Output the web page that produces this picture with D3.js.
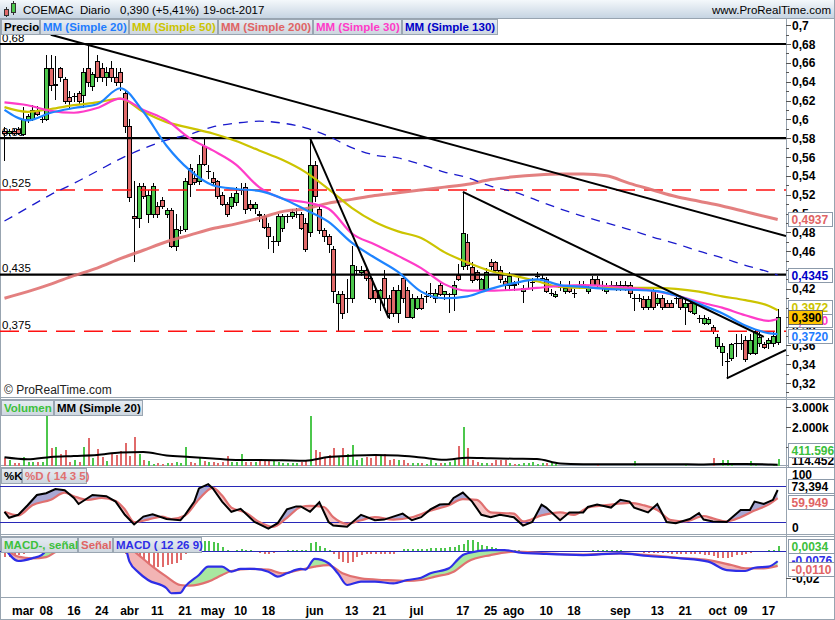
<!DOCTYPE html>
<html><head><meta charset="utf-8">
<script src="https://cdn.jsdelivr.net/npm/d3@7"></script>
<style>
body{margin:0;background:#fff}
svg{display:block}
text{font-family:"Liberation Sans",Arial,sans-serif}
</style>
</head><body>
<svg id="c" width="835" height="620"></svg>
<script>
// ---------------- DATA ----------------
const ticker = "COEMAC", period = "Diario";
const monthDays = [
 ['02',[23,24,27,28]],
 ['03',[1,2,3,6,7,8,9,10,13,14,15,16,17,20,21,22,23,24,27,28,29,30,31]],
 ['04',[3,4,5,6,7,10,11,12,13,18,19,20,21,24,25,26,27,28]],
 ['05',[2,3,4,5,8,9,10,11,12,15,16,17,18,19,22,23,24,25,26,29,30,31]],
 ['06',[1,2,5,6,7,8,9,12,13,14,15,16,19,20,21,22,23,26,27,28,29,30]],
 ['07',[3,4,5,6,7,10,11,12,13,14,17,18,19,20,21,24,25,26,27,28,31]],
 ['08',[1,2,3,4,7,8,9,10,11,14,15,16,17,18,21,22,23,24,25,28,29,30,31]],
 ['09',[1,4,5,6,7,8,11,12,13,14,15,18,19,20,21,22,25,26,27,28,29]],
 ['10',[2,3,4,5,6,9,10,11,12,13,16,17,18,19]]
];
const xTickLabels = [['2017-03-01','mar'],['2017-03-08','08'],['2017-03-16','16'],['2017-03-24','24'],['2017-04-03','abr'],['2017-04-11','11'],['2017-04-21','21'],['2017-05-02','may'],['2017-05-10','10'],['2017-05-18','18'],['2017-06-01','jun'],['2017-06-13','13'],['2017-06-21','21'],['2017-07-03','jul'],['2017-07-17','17'],['2017-07-25','25'],['2017-08-01','ago'],['2017-08-10','10'],['2017-08-18','18'],['2017-09-01','sep'],['2017-09-13','13'],['2017-09-21','21'],['2017-10-02','oct'],['2017-10-09','09'],['2017-10-17','17']];

// OHLC rows [open, high, low, close]
const ohlc = [
[0.588,0.592,0.556,0.585],[0.585,0.590,0.582,0.588],[0.588,0.590,0.583,0.585],[0.590,0.592,0.583,0.585],
[0.584,0.613,0.582,0.600],[0.600,0.606,0.596,0.604],[0.600,0.615,0.598,0.610],[0.609,0.614,0.604,0.606],
[0.600,0.604,0.596,0.600],[0.600,0.668,0.598,0.654],[0.654,0.668,0.630,0.636],[0.636,0.667,0.621,0.637],
[0.654,0.656,0.640,0.645],[0.643,0.645,0.616,0.620],[0.624,0.630,0.612,0.620],[0.625,0.628,0.618,0.625],
[0.628,0.630,0.615,0.620],[0.626,0.655,0.612,0.650],[0.654,0.679,0.634,0.640],[0.635,0.650,0.630,0.648],
[0.662,0.668,0.640,0.645],[0.654,0.660,0.640,0.645],[0.645,0.656,0.635,0.650],[0.654,0.662,0.640,0.645],
[0.645,0.655,0.635,0.640],[0.650,0.654,0.630,0.640],[0.628,0.630,0.585,0.593],[0.593,0.600,0.512,0.518],
[0.497,0.534,0.449,0.495],[0.495,0.532,0.485,0.529],[0.529,0.532,0.515,0.519],[0.500,0.525,0.490,0.520],
[0.500,0.532,0.495,0.529],[0.508,0.512,0.495,0.500],[0.514,0.518,0.505,0.508],[0.500,0.506,0.495,0.504],
[0.504,0.506,0.463,0.466],[0.466,0.500,0.460,0.484],[0.483,0.487,0.478,0.483],[0.484,0.538,0.480,0.534],
[0.548,0.553,0.518,0.531],[0.538,0.545,0.530,0.533],[0.534,0.562,0.530,0.553],[0.572,0.580,0.550,0.553],
[0.545,0.552,0.537,0.545],[0.538,0.544,0.530,0.533],[0.534,0.536,0.515,0.519],[0.520,0.523,0.508,0.510],
[0.510,0.512,0.496,0.499],[0.508,0.522,0.505,0.518],[0.512,0.528,0.508,0.522],[0.525,0.532,0.520,0.525],
[0.528,0.532,0.500,0.505],[0.510,0.514,0.503,0.506],[0.506,0.512,0.500,0.510],[0.500,0.503,0.491,0.499],
[0.497,0.500,0.484,0.486],[0.486,0.490,0.462,0.476],[0.471,0.476,0.458,0.471],[0.471,0.500,0.465,0.497],
[0.485,0.500,0.480,0.497],[0.497,0.500,0.490,0.497],[0.497,0.505,0.494,0.502],[0.500,0.506,0.495,0.500],
[0.500,0.502,0.483,0.485],[0.490,0.495,0.459,0.462],[0.480,0.580,0.475,0.552],[0.552,0.556,0.512,0.519],
[0.505,0.508,0.478,0.482],[0.482,0.485,0.470,0.476],[0.476,0.478,0.458,0.468],[0.462,0.465,0.405,0.418],
[0.405,0.418,0.375,0.414],[0.414,0.418,0.388,0.394],[0.410,0.430,0.394,0.410],[0.410,0.465,0.405,0.445],
[0.440,0.444,0.436,0.440],[0.438,0.444,0.434,0.440],[0.440,0.442,0.428,0.431],[0.431,0.434,0.408,0.410],
[0.419,0.422,0.405,0.410],[0.410,0.420,0.396,0.419],[0.431,0.440,0.402,0.410],[0.410,0.413,0.388,0.394],
[0.419,0.422,0.390,0.394],[0.394,0.424,0.384,0.419],[0.431,0.434,0.405,0.410],[0.419,0.422,0.390,0.390],
[0.390,0.414,0.388,0.410],[0.400,0.412,0.398,0.410],[0.410,0.414,0.398,0.400],[0.412,0.418,0.405,0.412],
[0.416,0.426,0.410,0.416],[0.410,0.420,0.405,0.416],[0.424,0.426,0.412,0.414],[0.414,0.418,0.408,0.418],
[0.414,0.416,0.394,0.414],[0.415,0.428,0.396,0.424],[0.435,0.446,0.428,0.430],[0.444,0.523,0.440,0.479],
[0.470,0.478,0.440,0.445],[0.443,0.448,0.426,0.429],[0.438,0.440,0.428,0.430],[0.420,0.432,0.418,0.430],
[0.420,0.442,0.418,0.438],[0.449,0.452,0.440,0.444],[0.449,0.450,0.438,0.440],[0.440,0.444,0.426,0.430],
[0.428,0.432,0.418,0.424],[0.424,0.438,0.420,0.434],[0.425,0.428,0.418,0.424],[0.427,0.432,0.424,0.427],
[0.418,0.424,0.405,0.421],[0.429,0.432,0.420,0.429],[0.427,0.432,0.418,0.427],[0.434,0.438,0.430,0.434],
[0.432,0.436,0.428,0.432],[0.430,0.433,0.416,0.418],[0.416,0.420,0.412,0.416],[0.412,0.418,0.410,0.415],
[0.422,0.428,0.418,0.422],[0.418,0.424,0.415,0.421],[0.424,0.428,0.416,0.418],[0.416,0.420,0.410,0.416],
[0.424,0.428,0.420,0.424],[0.425,0.428,0.420,0.425],[0.418,0.424,0.414,0.421],[0.430,0.434,0.423,0.424],
[0.430,0.434,0.422,0.424],[0.424,0.428,0.418,0.424],[0.418,0.426,0.415,0.423],[0.424,0.428,0.420,0.424],
[0.424,0.427,0.418,0.424],[0.424,0.428,0.418,0.424],[0.424,0.428,0.418,0.420],[0.424,0.427,0.410,0.416],
[0.410,0.414,0.396,0.410],[0.410,0.414,0.406,0.410],[0.409,0.412,0.398,0.401],[0.401,0.412,0.398,0.409],
[0.419,0.422,0.398,0.401],[0.405,0.415,0.402,0.410],[0.410,0.413,0.398,0.401],[0.405,0.408,0.400,0.401],
[0.405,0.408,0.400,0.401],[0.410,0.412,0.404,0.410],[0.410,0.412,0.398,0.401],[0.401,0.408,0.382,0.405],
[0.405,0.408,0.394,0.396],[0.394,0.408,0.392,0.405],[0.389,0.392,0.384,0.389],[0.384,0.392,0.382,0.389],
[0.384,0.390,0.382,0.388],[0.380,0.382,0.372,0.375],[0.359,0.372,0.356,0.369],[0.353,0.362,0.338,0.359],
[0.343,0.352,0.325,0.343],[0.347,0.362,0.343,0.361],[0.363,0.372,0.348,0.363],[0.363,0.372,0.355,0.363],
[0.366,0.370,0.342,0.345],[0.352,0.372,0.350,0.366],[0.352,0.376,0.350,0.375],[0.362,0.374,0.358,0.369],
[0.361,0.364,0.356,0.358],[0.362,0.368,0.356,0.366],[0.362,0.374,0.358,0.370],[0.364,0.399,0.360,0.390]
];

// volume in thousands
const volume = [435,350,200,200,517,267,267,267,267,2633, 933,1017,633,850,267,350,267,1017,1467,433,
 900,480,300,650,600,800,1183,550,1500,633, 350,300,150,183,133,183,217,267,183,1017,
 267,183,433,300,267,233,217,267,550,267, 267,650,267,267,267,300,300,300,350,233,
 183,183,183,183,233,350,2550,850,767,517, 600,967,550,967,633,1083,350,433,517,433,
 600,600,633,350,400,350,350,183,217,183, 183,133,350,183,183,183,267,350,1050,2017,
 967,350,267,183,183,183,350,350,350,183, 133,133,183,183,267,133,183,217,183,133,
 60,40,50,30,40,30,60,40,80,30, 70,40,30,60,40,50,300,60,40,50,
 40,60,30,40,50,40,30,120,40,60, 30,50,40,433,60,350,350,80,60,40,
 70,300,80,60,50,60,80,411.596];

// moving averages read every 5 sessions (index into trading days)
const maIdx = [0,5,10,15,20,25,30,35,40,45,50,55,60,65,70,75,80,85,90,95,100,105,110,115,120,125,130,135,140,145,150,155,160,165,167];
const ma20  = [0.610,0.599,0.607,0.612,0.616,0.633,0.608,0.572,0.546,0.530,0.526,0.524,0.516,0.504,0.491,0.469,0.453,0.438,0.417,0.410,0.412,0.420,0.426,0.430,0.424,0.422,0.420,0.419,0.418,0.413,0.404,0.394,0.381,0.373,0.3720];
const ma50  = [0.613,0.608,0.611,0.615,0.618,0.622,0.608,0.597,0.591,0.585,0.577,0.567,0.557,0.544,0.526,0.506,0.491,0.481,0.474,0.459,0.448,0.439,0.434,0.428,0.422,0.421,0.421,0.421,0.421,0.420,0.417,0.412,0.408,0.402,0.3972];
const ma200 = [0.410,0.417,0.425,0.434,0.442,0.452,0.461,0.470,0.477,0.484,0.489,0.495,0.502,0.505,0.511,0.515,0.519,0.522,0.525,0.528,0.531,0.536,0.539,0.541,0.542,0.542,0.540,0.532,0.525,0.518,0.513,0.508,0.502,0.496,0.4937];
const ma30  = [0.618,0.615,0.609,0.607,0.612,0.622,0.610,0.599,0.580,0.567,0.552,0.528,0.516,0.512,0.505,0.479,0.467,0.455,0.442,0.425,0.418,0.418,0.419,0.421,0.423,0.424,0.423,0.421,0.418,0.413,0.406,0.400,0.392,0.386,0.3880];
const ma130 = [0.492,0.506,0.520,0.532,0.545,0.558,0.569,0.578,0.584,0.592,0.596,0.598,0.596,0.591,0.582,0.570,0.562,0.559,0.552,0.544,0.538,0.529,0.523,0.514,0.505,0.497,0.490,0.483,0.475,0.468,0.460,0.453,0.445,0.438,0.4345];
const volMa = [485,385,500,550,600,725,750,575,500,425,350,350,335,315,500,565,600,575,475,365,465,435,415,400,175,140,135,135,135,135,130,150,150,130,114.452];

// drawn levels and trend lines
const levels = [{v:0.68,lab:'0,68',dash:false},{v:0.58,lab:'0,58',dash:false},{v:0.435,lab:'0,435',dash:false},{v:0.525,lab:'0,525',dash:true},{v:0.375,lab:'0,375',dash:true}];
const trendLines = [
 {a:[18,0.679], b:[167,0.4785], from:10, extend:true},
 {a:[66,0.580], b:[83,0.389], from:66, extend:false},
 {a:[99,0.523], b:[164,0.369], from:99, extend:false},
 {a:[156,0.325], b:[167,0.351], from:156, extend:true}
];

// stochastic [session index, value]
const stochK = [[0,37],[1,27],[3,32],[5,48],[7,65],[9,68],[11,75],[13,73],[15,60],[16,50],[19,65],[22,63],[24,54],[26,32],[28,16],[30,29],[32,33],[35,25],[38,23],[39,32],[41,54],[42,76],[44,83],[45,76],[47,54],[49,37],[51,42],[54,20],[57,9],[59,18],[61,41],[63,46],[64,46],[66,37],[68,53],[70,20],[71,14],[74,12],[77,32],[80,23],[82,24],[86,34],[88,23],[90,28],[92,41],[94,49],[96,50],[97,60],[99,69],[101,54],[103,32],[105,28],[107,32],[110,28],[112,14],[114,20],[116,49],[117,44],[120,23],[122,36],[125,36],[126,45],[128,49],[131,44],[133,57],[135,54],[136,44],[139,36],[141,50],[143,20],[145,18],[148,25],[150,35],[151,24],[153,21],[156,20],[159,40],[161,40],[162,54],[164,50],[166,57],[167,73.394]];
const stochD = [[0,37],[3,31],[6,48],[10,57],[13,69],[15,63],[18,57],[21,60],[24,55],[26,41],[28,20],[31,24],[34,29],[36,25],[39,31],[42,58],[45,77],[47,64],[49,44],[52,36],[55,20],[58,12],[61,27],[64,45],[66,47],[69,45],[71,28],[74,17],[77,23],[80,28],[84,24],[88,28],[92,39],[96,48],[99,58],[102,57],[105,36],[110,34],[112,21],[116,31],[120,36],[123,32],[126,44],[130,48],[135,52],[138,48],[141,40],[144,23],[147,21],[151,30],[153,26],[156,21],[159,28],[162,39],[165,49],[167,59.949]];

// MACD [session index, value]
const macdLine = [[0,0.0025],[3,-0.0074],[6,-0.0054],[8,-0.003],[10,0.004],[13,0.008],[16,0.010],[19,0.010],[22,0.009],[24,0.006],[26,0.0032],[27,-0.0079],[29,-0.016],[31,-0.0215],[35,-0.0276],[36,-0.0313],[38,-0.031],[39,-0.0264],[42,-0.0178],[44,-0.0116],[47,-0.0116],[49,-0.0153],[51,-0.0133],[54,-0.0133],[57,-0.0153],[59,-0.019],[61,-0.0165],[64,-0.0133],[65,-0.0138],[67,-0.0059],[70,-0.0091],[72,-0.0165],[74,-0.0252],[77,-0.0227],[80,-0.0227],[84,-0.024],[87,-0.0215],[90,-0.0198],[92,-0.0165],[96,-0.0128],[98,-0.006],[99,-0.003],[100,-0.0017],[105,0.0007],[108,0.0007],[111,-0.001],[117,-0.0022],[125,-0.003],[133,-0.0017],[139,-0.0037],[146,-0.0054],[152,-0.0079],[156,-0.0141],[160,-0.0148],[162,-0.0124],[165,-0.0116],[167,-0.0076]];
const macdSignal = [[0,0.0025],[3,-0.0042],[6,-0.0054],[9,-0.0045],[11,-0.0007],[14,0.004],[18,0.007],[22,0.008],[26,0.004],[27,0.0025],[29,-0.003],[32,-0.0116],[35,-0.019],[38,-0.0252],[40,-0.0257],[44,-0.0227],[47,-0.0178],[49,-0.0148],[53,-0.0133],[57,-0.0138],[60,-0.0165],[64,-0.0138],[67,-0.0116],[70,-0.0104],[73,-0.0165],[77,-0.0203],[82,-0.0215],[87,-0.0222],[90,-0.0215],[93,-0.019],[97,-0.0153],[100,-0.0079],[105,-0.003],[110,-0.0005],[117,-0.0017],[125,-0.0027],[133,-0.0017],[139,-0.003],[146,-0.0052],[152,-0.0067],[157,-0.0104],[160,-0.0128],[164,-0.0128],[167,-0.011]];
const macdHist = [-0.0042,-0.0047,-0.0042,-0.003,-0.002,-0.001,-0.0005,0.001,0.002,0.004,0.006,0.007,0.007,0.006,0.005,0.004,0.004,0.003,0.003,0.003,
0.002,0.002,0.001,0.001,0.000,-0.001,-0.002,-0.0079,-0.0116,-0.0153,-0.0153,-0.0147,-0.0128,-0.0116,-0.0116,-0.0104,-0.0098,-0.0091,-0.0067,-0.002,
0.002,0.005,0.007,0.0076,0.0076,0.007,0.0057,0.003,0.0005,0,0.001,0.0012,0.001,0.0005,0.0003,-0.0012,-0.002,-0.0025,-0.0015,-0.0005,
0.0003,0.0008,0.001,0.001,0.001,0.0006,0.0057,0.0064,0.004,0.0022,0.0005,-0.0022,-0.0059,-0.0079,-0.0091,-0.0079,-0.0047,-0.0032,-0.0025,-0.002,
-0.002,-0.002,-0.002,-0.002,-0.002,-0.0005,0.0012,0.0012,0.0012,0.0012,0.0012,0.0015,0.0022,0.0025,0.0025,0.0025,0.003,0.003,0.0042,0.0052,
0.0079,0.0079,0.0064,0.0044,0.004,0.003,0.0022,0.0015,0.001,0.0007,0.0007,0.0005,-0.0003,-0.0005,-0.0005,-0.0008,-0.0008,-0.001,-0.001,-0.0008,
-0.0005,-0.0003,-0.0003,-0.0002,0.0002,0.0003,0.0003,0.0005,0.0006,0.0005,0.0005,0.0004,0.0006,0.0004,0.0002,-0.0002,-0.0005,-0.0008,-0.0012,-0.0015,
-0.0017,-0.0018,-0.0018,-0.0018,-0.002,-0.002,-0.002,-0.0022,-0.0022,-0.0022,-0.0025,-0.0027,-0.003,-0.0037,-0.0054,-0.005,-0.0054,-0.0045,-0.0032,-0.0028,
-0.0019,-0.0015,-0.001,-0.0005,0.0002,0.0005,0.001,0.0034];

// ---------------- CHART ----------------
const pad = d => String(d).padStart(2,'0');
const dates = monthDays.flatMap(([m,ds]) => ds.map(d => `2017-${m}-${pad(d)}`));
const N = dates.length;
const PR = 786;
const svg = d3.select('#c');
const defs = svg.append('defs');
function grad(id, c1, c2){
  const g = defs.append('linearGradient').attr('id',id).attr('x1',0).attr('y1',0).attr('x2',0).attr('y2',1);
  g.append('stop').attr('offset','0%').attr('stop-color',c1);
  g.append('stop').attr('offset','100%').attr('stop-color',c2);
}
grad('hdr','#F4F8FB','#C6D4E2');
grad('leg','#E6ECF2','#CDD6DF');
function clipRect(id,x,y,w,h){defs.append('clipPath').attr('id',id).append('rect').attr('x',x).attr('y',y).attr('width',w).attr('height',h);}
clipRect('cMain',0,19,PR,378);
clipRect('cVol',0,400,PR,66);
clipRect('cSto',0,468,PR,66);
clipRect('cMacd',0,537,PR,60);

const x = d3.scaleBand().domain(dates).range([2.17, 780]).padding(0);
const cx = i => x(dates[i]) + x.bandwidth()/2;
const yP = d3.scaleLinear().domain([0.32,0.68]).range([383,44]);
const yV = d3.scaleLinear().domain([0,3000]).range([467,407]);
const yS = d3.scaleLinear().domain([0,100]).range([534,474]);
const yM = d3.scaleLinear().domain([-0.02,0]).range([578,551]);

const GREEN='#4CC74C', RED='#E06A6A', GRID='#98A4B0';
const fmtC = (v,d) => v.toFixed(d).replace('.',',');
const lastOf = a => a[a.length-1];

// background & frames
svg.append('rect').attr('width',835).attr('height',620).attr('fill','#fff');
svg.append('rect').attr('x',0).attr('y',0).attr('width',835).attr('height',18).attr('fill','url(#hdr)');
const frame = svg.append('g').attr('stroke',GRID).attr('fill','none').attr('shape-rendering','crispEdges');
[18.5,397.5,399.5,465.5,467.5,534.5,536.5,597.5,619.5].forEach(y=>frame.append('line').attr('x1',0).attr('x2',835).attr('y1',y).attr('y2',y));
frame.append('line').attr('x1',PR+0.5).attr('x2',PR+0.5).attr('y1',19).attr('y2',598);
frame.append('line').attr('x1',0.5).attr('x2',0.5).attr('y1',19).attr('y2',620);
frame.append('line').attr('x1',834.5).attr('x2',834.5).attr('y1',0).attr('y2',620);

// header
const hdr = svg.append('g');
hdr.append('line').attr('x1',6.5).attr('x2',6.5).attr('y1',7).attr('y2',17).attr('stroke','#333');
hdr.append('rect').attr('x',4.5).attr('y',9.5).attr('width',4).attr('height',6).attr('fill',RED).attr('stroke','#333');
hdr.append('line').attr('x1',13.5).attr('x2',13.5).attr('y1',1).attr('y2',15).attr('stroke','#333');
hdr.append('rect').attr('x',11.5).attr('y',3.5).attr('width',4).attr('height',9).attr('fill',GREEN).attr('stroke','#333');
const last = ohlc[N-1], prev = ohlc[N-2];
const chg = (last[3]/prev[3]-1)*100;
const mes = ['ene','feb','mar','abr','may','jun','jul','ago','sep','oct','nov','dic'];
const ld = dates[N-1].split('-');
const hdrTxt = [[23,ticker],[80,period],[120,`${fmtC(last[3],3)} (${chg>=0?'+':''}${fmtC(chg,2)}%)`],[203,`${+ld[2]}-${mes[+ld[1]-1]}-${ld[0]}`]];
hdr.selectAll('text.h').data(hdrTxt).join('text').attr('class','h').attr('x',d=>d[0]).attr('y',13.5).attr('font-size',11.5).attr('fill','#000').text(d=>d[1]);
hdr.append('text').attr('x',831).attr('y',13.5).attr('text-anchor','end').attr('font-size',11.5).attr('fill','#000').text('www.ProRealTime.com');

// ---------- MAIN PANEL ----------
const main = svg.append('g').attr('clip-path','url(#cMain)');
main.selectAll('text.lv').data(levels).join('text').attr('class','lv').attr('x',2).attr('y',d=>yP(d.v)-2.5)
  .attr('font-size',11.5).attr('fill','#000').text(d=>d.lab);
const cg = main.append('g').attr('shape-rendering','crispEdges');
ohlc.forEach((r,i)=>{
  const [o,h,l,c] = r; const px = Math.round(cx(i));
  cg.append('line').attr('x1',px+0.5).attr('x2',px+0.5).attr('y1',yP(h)).attr('y2',yP(l)).attr('stroke','#000');
  if (Math.abs(c-o) < 0.0005) {
    cg.append('line').attr('x1',px-2).attr('x2',px+3).attr('y1',Math.round(yP(c))+0.5).attr('y2',Math.round(yP(c))+0.5).attr('stroke','#000');
  } else {
    const t = Math.round(yP(Math.max(o,c))), b = Math.round(yP(Math.min(o,c)));
    cg.append('rect').attr('x',px-1.5).attr('y',t+0.5).attr('width',4).attr('height',Math.max(1,b-t))
      .attr('fill',c>o?GREEN:RED).attr('stroke','#000').attr('stroke-width',1);
  }
});
main.selectAll('line.lv').data(levels).join('line').attr('class','lv').attr('x1',0).attr('x2',PR)
  .attr('y1',d=>yP(d.v)).attr('y2',d=>yP(d.v))
  .attr('stroke',d=>d.dash?'#FF1010':'#000').attr('stroke-width',d=>d.dash?1.4:2.2)
  .attr('stroke-dasharray',d=>d.dash?'19,9':null);
const maSeries = [
 {vals:ma200,color:'#E07272',w:3,op:0.9},
 {vals:ma130,color:'#1A1ACC',w:1.3,dash:'9,7'},
 {vals:ma50,color:'#CCC400',w:2.2},
 {vals:ma30,color:'#FF3CC8',w:2.2},
 {vals:ma20,color:'#1E84FF',w:2.2}
];
const maLine = d3.line().x(d=>cx(d[0])).y(d=>yP(d[1])).curve(d3.curveMonotoneX);
maSeries.forEach(s=>{
  main.append('path').attr('d',maLine(maIdx.map((ix,k)=>[ix,s.vals[k]])))
    .attr('fill','none').attr('stroke',s.color).attr('stroke-width',s.w)
    .attr('stroke-opacity',s.op||1).attr('stroke-dasharray',s.dash||null);
});
trendLines.forEach(t=>{
  const x1 = cx(t.a[0]), y1 = yP(t.a[1]), x2 = cx(t.b[0]), y2 = yP(t.b[1]);
  const k = (y2-y1)/(x2-x1);
  const xs = cx(t.from), xe = t.extend ? PR : x2;
  main.append('line').attr('x1',xs).attr('y1',y1+k*(xs-x1)).attr('x2',xe).attr('y2',y1+k*(xe-x1))
    .attr('stroke','#000').attr('stroke-width',2);
});
main.append('text').attr('x',4).attr('y',394).attr('font-size',12).attr('fill','#222').text('\u00A9 ProRealTime.com');

function legend(y, items){
  let xx = 1;
  items.forEach(it=>{
    svg.append('rect').attr('x',xx+0.5).attr('y',y+0.5).attr('width',it.w).attr('height',15)
      .attr('fill','url(#leg)').attr('stroke','#9AA6B2');
    svg.append('text').attr('x',xx+3).attr('y',y+12).attr('font-size',11.5).attr('font-weight','bold')
      .attr('fill',it.c).text(it.t);
    xx += it.w + 1;
  });
}
legend(19,[{t:'Precio',c:'#000',w:38},{t:'MM (Simple 20)',c:'#1E7CFF',w:88},{t:'MM (Simple 50)',c:'#CCC400',w:88},{t:'MM (Simple 200)',c:'#E06464',w:94},{t:'MM (Simple 30)',c:'#FF3CC8',w:88},{t:'MM (Simple 130)',c:'#0000C8',w:95}]);

// value boxes on the right (positions nudged like the original stacking)
const mainBoxes = [
 {y:yP(lastOf(ma200)), t:fmtC(lastOf(ma200),4), c:'#E06464'},
 {y:yP(lastOf(ma130)), t:fmtC(lastOf(ma130),4), c:'#0000C8'},
 {y:yP(lastOf(ma20))+2, t:fmtC(lastOf(ma20),4), c:'#1E7CFF'},
 {y:yP(lastOf(ma30))+1, t:fmtC(lastOf(ma30),4), c:'#FF3CC8'},
 {y:yP(lastOf(ma50))-3, t:fmtC(lastOf(ma50),4), c:'#CCC400'},
 {y:yP(last[3]), t:fmtC(last[3],3), c:'#000', bg:'#FFC400', stroke:'#666', w:34}
];
const volBoxes = [
 {y:yV(lastOf(volMa))-5, t:d3.format('.3f')(lastOf(volMa)), c:'#000', w:46},
 {y:yV(lastOf(volume))-9, t:d3.format('.3f')(lastOf(volume)), c:'#3CC03C', w:46}
];
const stoBoxes = [
 {y:yS(lastOf(stochK)[1])-4, t:fmtC(lastOf(stochK)[1],3), c:'#000', w:46},
 {y:yS(lastOf(stochD)[1])+4, t:fmtC(lastOf(stochD)[1],3), c:'#E06464', w:46}
];
const macdBoxes = [
 {y:yM(lastOf(macdLine)[1])-1, t:fmtC(lastOf(macdLine)[1],4), c:'#2E2EE6', w:46},
 {y:yM(lastOf(macdHist)), t:fmtC(lastOf(macdHist),4), c:'#3CC03C', w:46},
 {y:yM(lastOf(macdSignal)[1])+3, t:fmtC(lastOf(macdSignal)[1],4), c:'#E06464', w:46}
];
const allBoxY = [...mainBoxes,...volBoxes,...stoBoxes,...macdBoxes].map(b=>b.y);
const hidden = yy => allBoxY.some(by => Math.abs(by-yy) < 5.5);

const ax = svg.append('g').attr('shape-rendering','crispEdges');
function axLabel(yy, txt){
  ax.append('line').attr('x1',PR).attr('x2',PR+5).attr('y1',Math.round(yy)+0.5).attr('y2',Math.round(yy)+0.5).attr('stroke','#555');
  if (!hidden(yy)) ax.append('text').attr('x',PR+6).attr('y',yy+4.5).attr('font-size',12).attr('font-weight','bold').attr('fill','#000').text(txt);
}
d3.range(31,71).forEach(k=>{
  const v = k/100, yy = yP(v);
  if (k%2===0 && k>=32) axLabel(yy, String(+v.toFixed(2)).replace('.',','));
  else ax.append('line').attr('x1',PR).attr('x2',PR+3).attr('y1',Math.round(yy)+0.5).attr('y2',Math.round(yy)+0.5).attr('stroke','#555');
});
function valBox(b){
  const w = b.w || 44, bx = 788.5;
  svg.append('rect').attr('x',bx).attr('y',Math.round(b.y-7)+0.5).attr('width',w).attr('height',14)
    .attr('fill',b.bg||'#fff').attr('stroke',b.stroke||'#8C9AAA');
  svg.append('text').attr('x',bx+3).attr('y',Math.round(b.y)+4.5).attr('font-size',12).attr('font-weight','bold')
    .attr('fill',b.c).text(b.t);
}

// ---------- VOLUME ----------
const vg = svg.append('g').attr('clip-path','url(#cVol)').attr('shape-rendering','crispEdges');
volume.forEach((v,i)=>{
  const r = ohlc[i], px = Math.round(cx(i));
  vg.append('rect').attr('x',px-0.5).attr('width',2.5).attr('y',yV(v)).attr('height',yV(0)-yV(v))
    .attr('fill', r[3]>=r[0] ? GREEN : RED);
});
vg.append('path').attr('d',d3.line().x(d=>cx(d[0])).y(d=>yV(d[1])).curve(d3.curveMonotoneX)(maIdx.map((ix,k)=>[ix,volMa[k]])))
  .attr('fill','none').attr('stroke','#000').attr('stroke-width',2).attr('shape-rendering','auto');
legend(400,[{t:'Volumen',c:'#3CC03C',w:52},{t:'MM (Simple 20)',c:'#000',w:88}]);
[3000,2000,1000].forEach(v=>axLabel(yV(v), d3.format(',')(v).replace(',','.')+'k'));

// ---------- STOCHASTIC ----------
const sg = svg.append('g').attr('clip-path','url(#cSto)');
function diffFill(g, idp, top, bot, A, B, sc, colAbove, colBelow, curveA){
  defs.append('clipPath').attr('id',idp+'a').append('path').attr('d', d3.area().x(d=>cx(d[0])).y0(top).y1(d=>sc(d[1])).curve(d3.curveMonotoneX)(B));
  defs.append('clipPath').attr('id',idp+'b').append('path').attr('d', d3.area().x(d=>cx(d[0])).y0(bot).y1(d=>sc(d[1])).curve(d3.curveMonotoneX)(B));
  g.append('path').attr('clip-path',`url(#${idp}a)`).attr('fill',colAbove)
    .attr('d', d3.area().x(d=>cx(d[0])).y0(bot).y1(d=>sc(d[1])).curve(curveA)(A));
  g.append('path').attr('clip-path',`url(#${idp}b)`).attr('fill',colBelow)
    .attr('d', d3.area().x(d=>cx(d[0])).y0(top).y1(d=>sc(d[1])).curve(curveA)(A));
}
diffFill(sg,'st',468,535,stochK,stochD,yS,'#A8A8D4','#F6C4C4',d3.curveLinear);
[80,20].forEach(v=>sg.append('line').attr('x1',0).attr('x2',PR).attr('y1',Math.round(yS(v))+0.5).attr('y2',Math.round(yS(v))+0.5).attr('stroke','#2828B8').attr('shape-rendering','crispEdges'));
sg.append('path').attr('d',d3.line().x(d=>cx(d[0])).y(d=>yS(d[1])).curve(d3.curveMonotoneX)(stochD)).attr('fill','none').attr('stroke','#E07070').attr('stroke-width',2.2);
sg.append('path').attr('d',d3.line().x(d=>cx(d[0])).y(d=>yS(d[1]))(stochK)).attr('fill','none').attr('stroke','#000').attr('stroke-width',2);
legend(468,[{t:'%K',c:'#000',w:20},{t:'%D ( 14 3 5)',c:'#E07070',w:64}]);
ax.append('text').attr('x',PR+6).attr('y',yS(100)+4.5).attr('font-size',12).attr('font-weight','bold').text('100');
ax.append('text').attr('x',PR+6).attr('y',yS(0)-2.5).attr('font-size',12).attr('font-weight','bold').text('0');

// ---------- MACD ----------
const mg = svg.append('g').attr('clip-path','url(#cMacd)');
const hg = mg.append('g').attr('shape-rendering','crispEdges');
macdHist.forEach((v,i)=>{
  const px = Math.round(cx(i));
  hg.append('rect').attr('x',px-0.5).attr('width',2.5).attr('y',Math.min(yM(v),yM(0))).attr('height',Math.abs(yM(v)-yM(0)))
    .attr('fill',v>=0?GREEN:RED);
});
mg.append('line').attr('x1',0).attr('x2',PR).attr('y1',Math.round(yM(0))+0.5).attr('y2',Math.round(yM(0))+0.5).attr('stroke','#2828B8').attr('shape-rendering','crispEdges');
diffFill(mg,'mc',537,598,macdLine,macdSignal,yM,'#A8E8A0','#F2B4B4',d3.curveMonotoneX);
mg.append('path').attr('d',d3.line().x(d=>cx(d[0])).y(d=>yM(d[1])).curve(d3.curveMonotoneX)(macdSignal)).attr('fill','none').attr('stroke','#E07070').attr('stroke-width',2.2);
mg.append('path').attr('d',d3.line().x(d=>cx(d[0])).y(d=>yM(d[1])).curve(d3.curveMonotoneX)(macdLine)).attr('fill','none').attr('stroke','#2E2EE6').attr('stroke-width',2.2);
legend(537,[{t:'MACD-, se\u00F1al',c:'#3CC03C',w:76},{t:'Se\u00F1al',c:'#E06464',w:34},{t:'MACD ( 12 26 9)',c:'#2E2EE6',w:88}]);
axLabel(yM(-0.02), '-0,02');

// value boxes drawn last
[...mainBoxes].forEach(valBox);
[...volBoxes].forEach(valBox);
[...stoBoxes].forEach(valBox);
[...macdBoxes].forEach(valBox);

// ---------- X AXIS ----------
svg.append('g').selectAll('text').data(xTickLabels).join('text')
  .attr('x',d=>x(d[0])+x.bandwidth()/2).attr('y',615).attr('text-anchor','middle')
  .attr('font-size',12).attr('font-weight','bold').attr('fill','#000').text(d=>d[1]);
</script>
</body></html>
